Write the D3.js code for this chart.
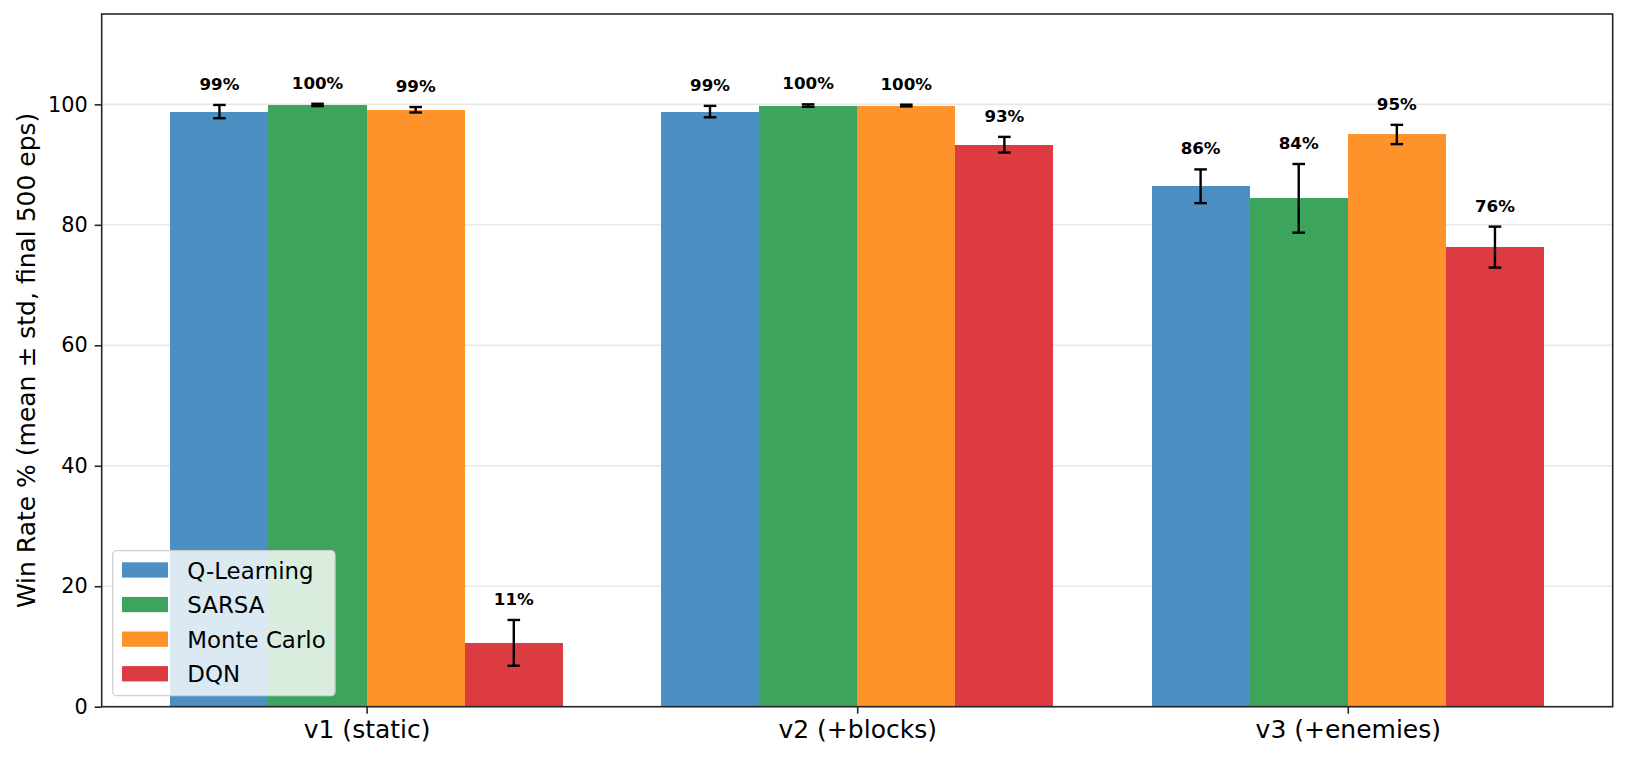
<!DOCTYPE html>
<html>
<head>
<meta charset="utf-8">
<script src="https://cdn.jsdelivr.net/npm/d3@7"></script>
<style>
  body { margin: 0; background: #fff; }
  svg text { font-family: "DejaVu Sans", sans-serif; fill: #000; }
</style>
</head>
<body>
<svg id="chart" width="1627" height="761"></svg>
<script>
// data
var envs = ["v1 (static)", "v2 (+blocks)", "v3 (+enemies)"];
var algos = ["Q-Learning", "SARSA", "Monte Carlo", "DQN"];
var colors = ["#4c8fc2", "#3ca45c", "#fd932a", "#dc3b41"];

var qMean = [98.8, 98.8, 86.4];
var qStd = [1.1, 0.95, 2.8];
var sarsaMean = [99.9, 99.8, 84.4];
var sarsaStd = [0.2, 0.2, 5.7];
var mcMean = [99.1, 99.8, 95.0];
var mcStd = [0.45, 0.15, 1.6];
var dqnMean = [10.6, 93.3, 76.3];
var dqnStd = [3.8, 1.3, 3.4];

var yTicks = [0, 20, 40, 60, 80, 100];

var means = [qMean, sarsaMean, mcMean, dqnMean];
var stds = [qStd, sarsaStd, mcStd, dqnStd];

var W = 1627, H = 761;
var margin = {left: 101.7, right: 14.3, top: 14, bottom: 54.3};
var barW = 0.2;

var svg = d3.select("#chart");

var x = d3.scaleLinear()
    .domain([-0.54, 2.54])
    .range([margin.left, W - margin.right]);

var y = d3.scaleLinear()
    .domain([0, 115])
    .range([H - margin.bottom, margin.top]);

// flat list of bars
var bars = [];
algos.forEach(function(a, j) {
    envs.forEach(function(e, i) {
        bars.push({
            algo: j,
            env: i,
            pos: i + (j - 1.5) * barW,
            mean: means[j][i],
            std: stds[j][i]
        });
    });
});

// grid
svg.append("g")
    .selectAll("line")
    .data(yTicks)
    .enter()
    .append("line")
    .attr("x1", margin.left)
    .attr("x2", W - margin.right)
    .attr("y1", function(d) { return y(d); })
    .attr("y2", function(d) { return y(d); })
    .attr("stroke", "#e8e8e8")
    .attr("stroke-width", 1.6);

// bars
svg.append("g")
    .attr("shape-rendering", "crispEdges")
    .selectAll("rect")
    .data(bars)
    .enter()
    .append("rect")
    .attr("x", function(d) { return x(d.pos - barW / 2); })
    .attr("width", function(d) { return x(d.pos + barW / 2) - x(d.pos - barW / 2); })
    .attr("y", function(d) { return y(d.mean); })
    .attr("height", function(d) { return y(0) - y(d.mean); })
    .attr("fill", function(d) { return colors[d.algo]; });

// error bars
var err = svg.append("g")
    .selectAll("g")
    .data(bars)
    .enter()
    .append("g")
    .attr("stroke", "#000")
    .attr("stroke-width", 2.4);

err.append("line")
    .attr("x1", function(d) { return x(d.pos); })
    .attr("x2", function(d) { return x(d.pos); })
    .attr("y1", function(d) { return y(d.mean - d.std); })
    .attr("y2", function(d) { return y(d.mean + d.std); });

err.append("line")
    .attr("x1", function(d) { return x(d.pos) - 6.3; })
    .attr("x2", function(d) { return x(d.pos) + 6.3; })
    .attr("y1", function(d) { return y(d.mean + d.std); })
    .attr("y2", function(d) { return y(d.mean + d.std); });

err.append("line")
    .attr("x1", function(d) { return x(d.pos) - 6.3; })
    .attr("x2", function(d) { return x(d.pos) + 6.3; })
    .attr("y1", function(d) { return y(d.mean - d.std); })
    .attr("y2", function(d) { return y(d.mean - d.std); });

// value labels
svg.append("g")
    .selectAll("text")
    .data(bars)
    .enter()
    .append("text")
    .attr("x", function(d) { return x(d.pos); })
    .attr("y", function(d) { return y(d.mean + d.std + 2) - 3; })
    .attr("text-anchor", "middle")
    .style("font-size", "16.7px")
    .style("font-weight", "bold")
    .text(function(d) { return Math.round(d.mean) + "%"; });

// axes
var yAxis = svg.append("g")
    .attr("transform", "translate(" + margin.left + ",0)")
    .call(d3.axisLeft(y).tickValues(yTicks).tickSize(7).tickPadding(7));

var xAxis = svg.append("g")
    .attr("transform", "translate(0," + (H - margin.bottom) + ")")
    .call(d3.axisBottom(x).tickValues([0, 1, 2]).tickFormat(function(d) { return envs[d]; })
        .tickSize(7).tickPadding(7));

[yAxis, xAxis].forEach(function(g) {
    g.select(".domain").remove();
    g.selectAll(".tick line").attr("stroke", "#262626").attr("stroke-width", 1.6);
    g.selectAll(".tick text").attr("fill", "#000").style("font-family", "DejaVu Sans");
});
yAxis.selectAll(".tick text").style("font-size", "20.8px");
xAxis.selectAll(".tick text").style("font-size", "25px");

// frame
svg.append("rect")
    .attr("x", margin.left)
    .attr("y", margin.top)
    .attr("width", W - margin.left - margin.right)
    .attr("height", H - margin.top - margin.bottom)
    .attr("fill", "none")
    .attr("stroke", "#262626")
    .attr("stroke-width", 1.6);

// y label
svg.append("text")
    .attr("transform", "translate(35," + ((margin.top + H - margin.bottom) / 2) + ") rotate(-90)")
    .attr("text-anchor", "middle")
    .style("font-size", "25px")
    .text("Win Rate % (mean \u00b1 std, final 500 eps)");

// legend
var legend = svg.append("g")
    .attr("transform", "translate(112.7,550.7)");

legend.append("rect")
    .attr("width", 222.3)
    .attr("height", 145)
    .attr("rx", 4)
    .attr("fill", "rgba(255,255,255,0.8)")
    .attr("stroke", "#d0d0d0")
    .attr("stroke-width", 1.3);

var rows = legend.selectAll(".row")
    .data(algos)
    .enter()
    .append("g")
    .attr("transform", function(d, i) { return "translate(0," + (19.3 + i * 34.6) + ")"; });

rows.append("rect")
    .attr("x", 9.3)
    .attr("y", -7.7)
    .attr("width", 46)
    .attr("height", 15.3)
    .attr("fill", function(d, i) { return colors[i]; });

rows.append("text")
    .attr("x", 74.6)
    .attr("y", 8.5)
    .style("font-size", "22.9px")
    .text(function(d) { return d; });
</script>
</body>
</html>
